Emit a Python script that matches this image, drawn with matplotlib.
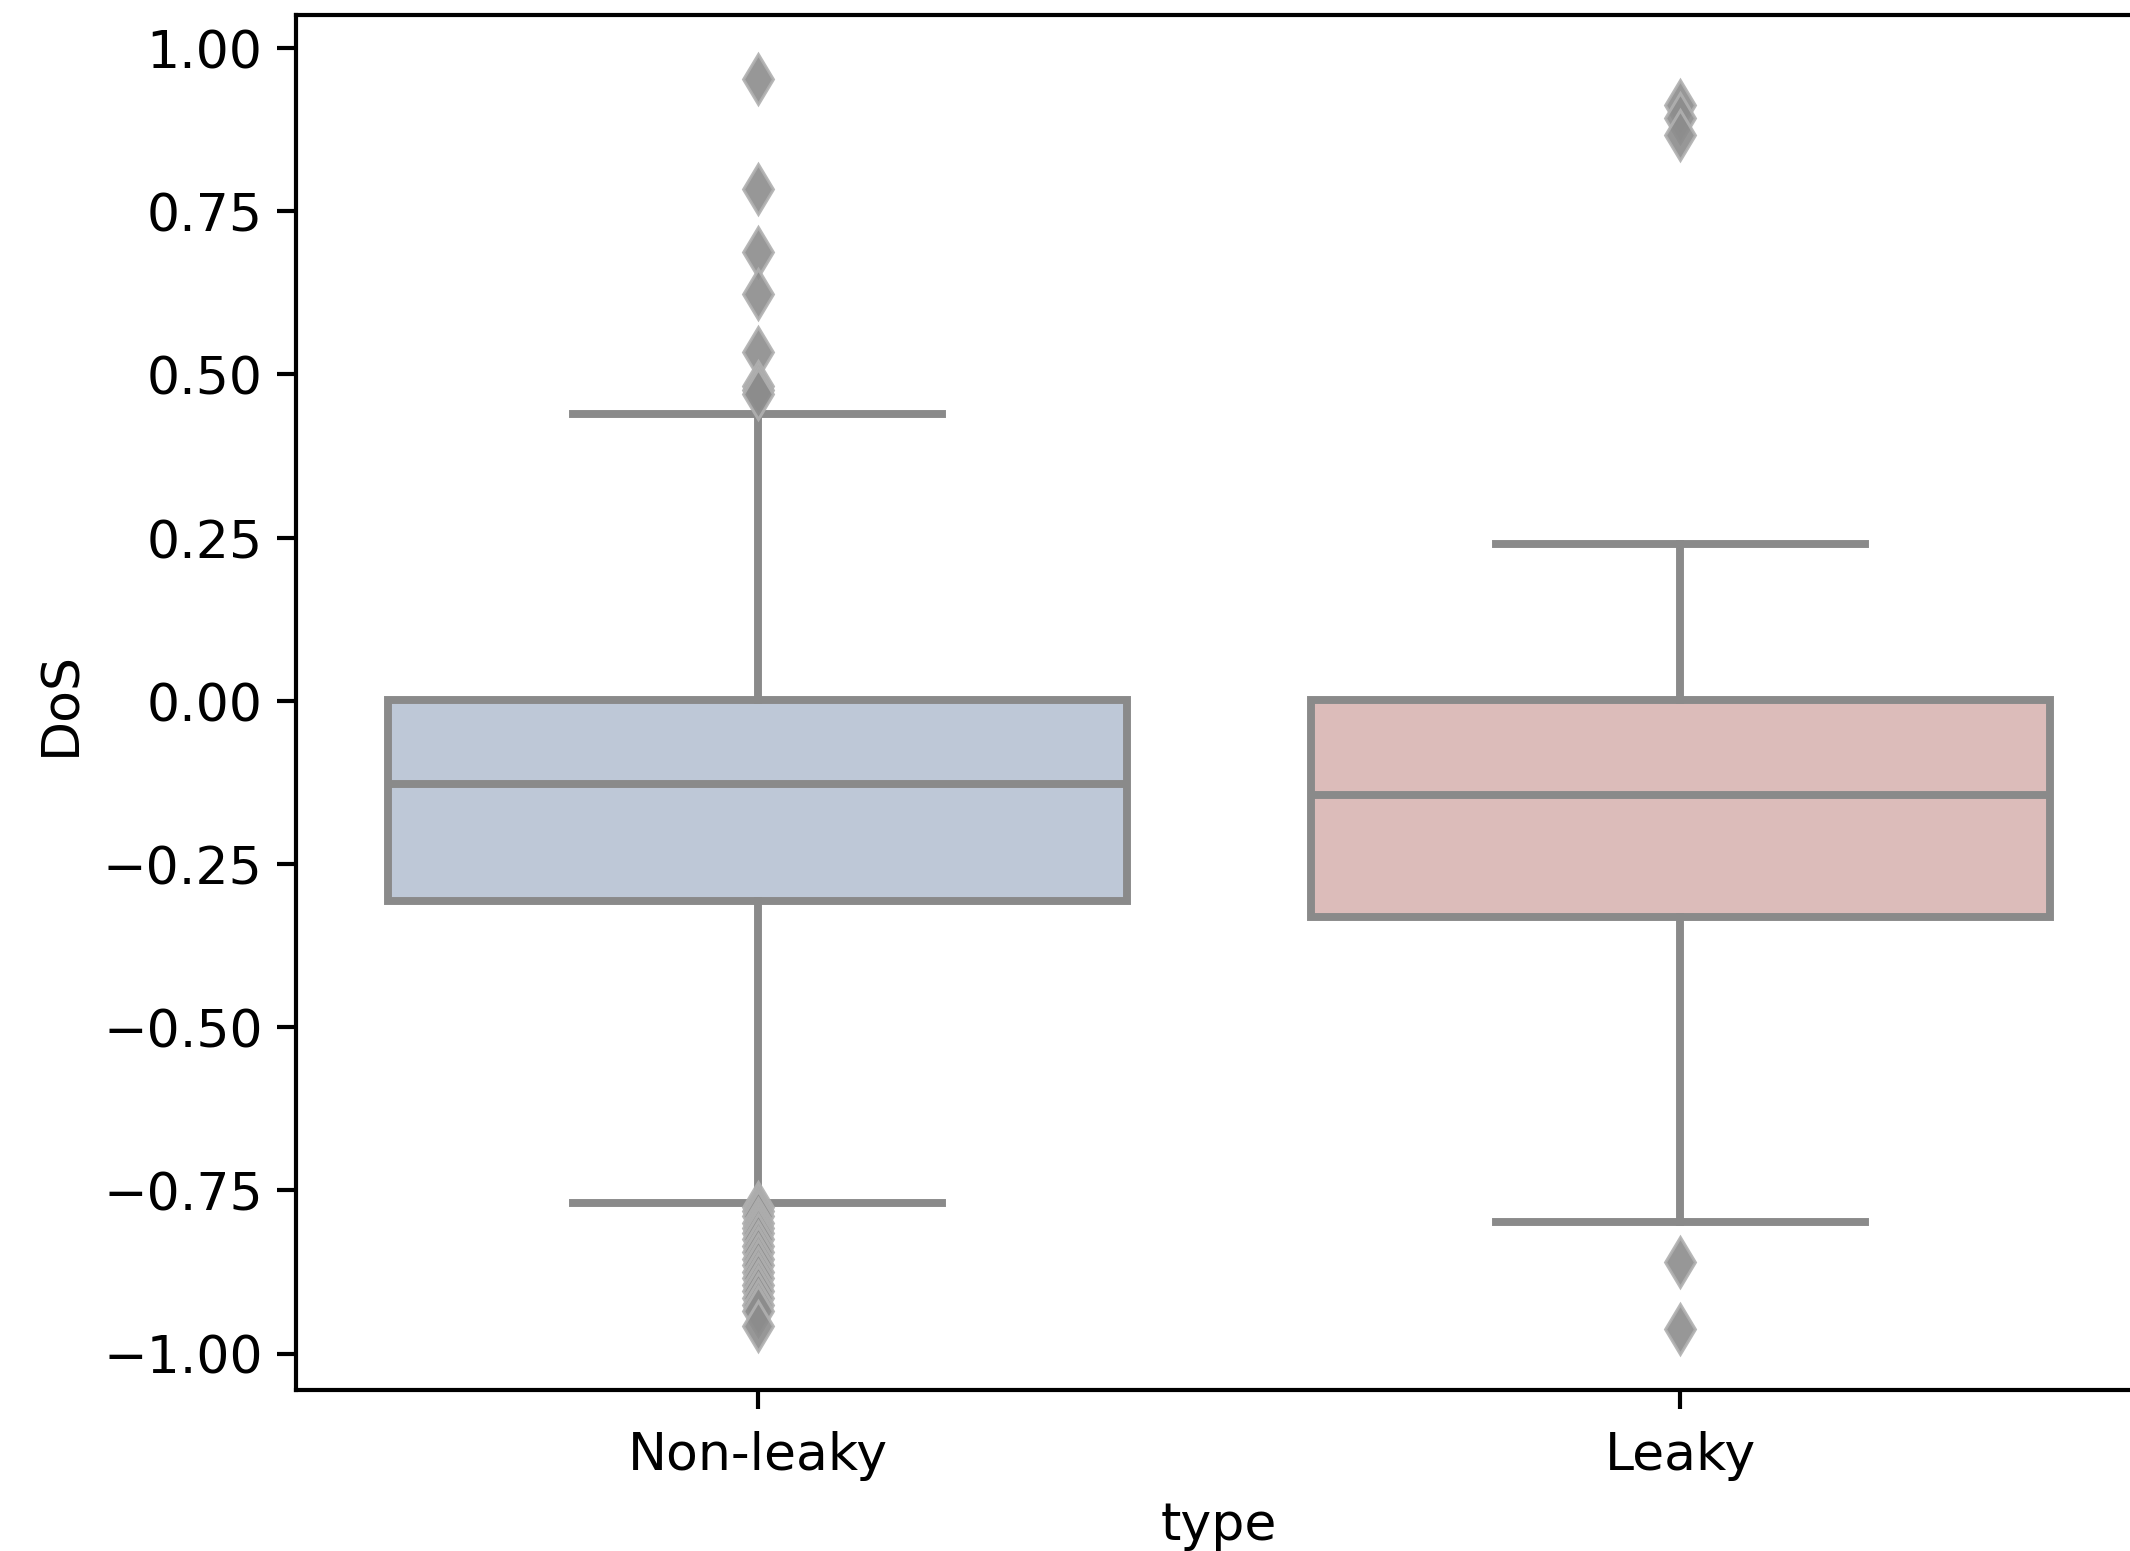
import matplotlib
matplotlib.use("Agg")
import matplotlib.pyplot as plt

categories = ["Non-leaky", "Leaky"]
q1 = [-0.307, -0.332]
medians = [-0.128, -0.145]
q3 = [0.001, 0.001]
whisker_low = [-0.769, -0.798]
whisker_high = [0.440, 0.240]
outliers_nonleaky = [0.953, 0.784, 0.687, 0.623, 0.534, 0.482, 0.476, 0.470,
                     -0.775, -0.782, -0.790, -0.800, -0.808, -0.815, -0.825,
                     -0.835, -0.845, -0.855, -0.865, -0.875, -0.885, -0.895,
                     -0.905, -0.915, -0.925, -0.935, -0.958]
outliers_leaky = [0.912, 0.893, 0.866, -0.860, -0.962]
fill_colors = ["#bec8d7", "#dcbcba"]
line_color = "#8a8a8a"

stats = []
for i, name in enumerate(categories):
    stats.append(dict(label=name, q1=q1[i], med=medians[i], q3=q3[i],
                      whislo=whisker_low[i], whishi=whisker_high[i],
                      fliers=[outliers_nonleaky, outliers_leaky][i]))

fig = plt.figure(figsize=(7.1, 5.1733), dpi=300)
ax = fig.add_axes([0.139, 0.1037, 0.8666, 0.8858])

lw = 1.9
bp = ax.bxp(stats, positions=range(len(categories)), widths=0.8,
            patch_artist=True,
            boxprops=dict(edgecolor=line_color, linewidth=lw),
            medianprops=dict(color=line_color, linewidth=lw),
            whiskerprops=dict(color=line_color, linewidth=lw),
            capprops=dict(color=line_color, linewidth=lw),
            capwidths=0.4,
            flierprops=dict(marker="d", markersize=8.5, markerfacecolor="#8c8c8c",
                            markeredgecolor="#b0b0b0", markeredgewidth=0.7,
                            alpha=0.9, linestyle="none"))
for patch, c in zip(bp["boxes"], fill_colors):
    patch.set_facecolor(c)

ax.set_xlim(-0.5, 1.5)
ax.set_ylim(-1.056, 1.05)
ax.set_yticks([1.0, 0.75, 0.5, 0.25, 0.0, -0.25, -0.5, -0.75, -1.0])
ax.set_xticks(range(len(categories)))
ax.set_xticklabels(categories)
ax.tick_params(labelsize=12.5, width=1.0, length=4.5)
ax.tick_params(axis="x", pad=5.0)
ax.set_xlabel("type", fontsize=12.5, labelpad=5.0)
ax.set_ylabel("DoS", fontsize=12.5)
for s in ax.spines.values():
    s.set_linewidth(1.0)

fig.savefig("out.png", dpi=300)
